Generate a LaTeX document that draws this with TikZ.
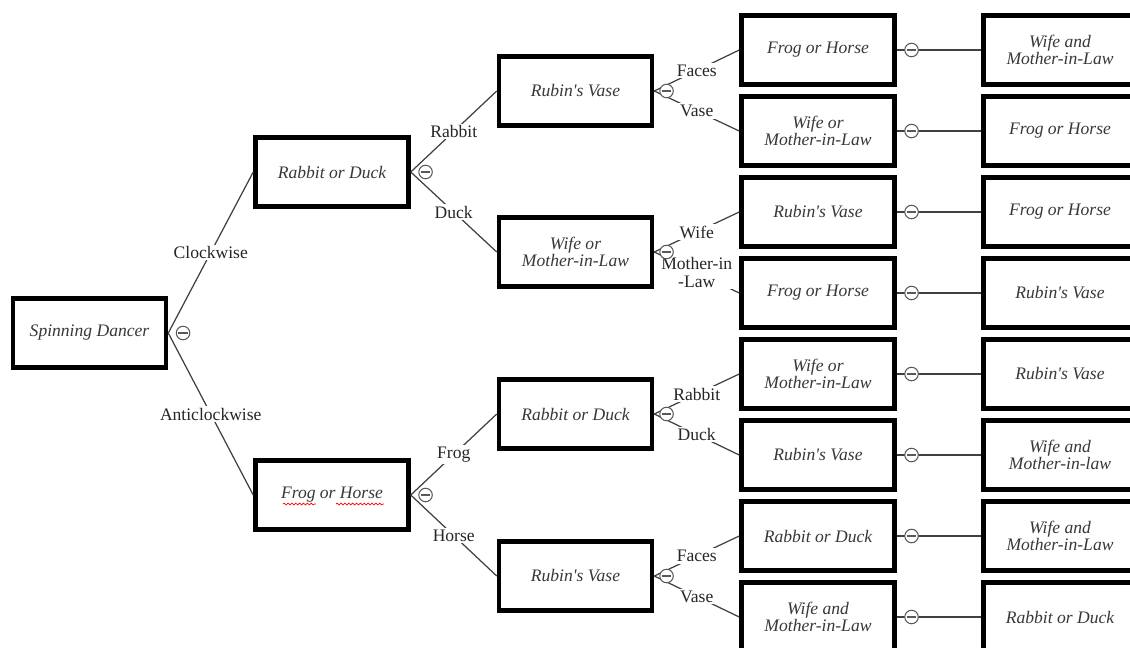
\documentclass[tikz,border=0pt]{standalone}
\usepackage{fontspec}
\setmainfont{Liberation Serif}
\usetikzlibrary{positioning,decorations.pathmorphing}

\begin{document}
\begin{tikzpicture}[x=0.02cm,y=-0.02cm,
  box/.style={draw=black,line width=2.6pt,minimum width=3.06cm,minimum height=1.38cm,
    inner sep=0pt,align=center,text=black!78,font=\fontsize{10}{9.7}\selectfont\itshape},
  edge/.style={draw=black!75,line width=.7pt},
  lab/.style={fill=white,inner sep=1pt,align=center,text=black!85,font=\fontsize{10}{9.7}\selectfont},
  knob/.style={circle,draw=black!65,fill=white,line width=.6pt,minimum size=0.27cm,inner sep=0pt,
    path picture={\draw[black!65,line width=.6pt]
      ([xshift=-2.8pt]path picture bounding box.center) -- ([xshift=2.8pt]path picture bounding box.center);}}]
\clip (0,0) rectangle (1130,647);
\fill[white] (0,0) rectangle (1130,647);
%
\node[box] (dancer) at (89.5,333) {Spinning Dancer};
\node[box] (rd1) at (332,172) {Rabbit or Duck};
\node[box] (fh1) at (332,495) {Frog or Horse};
\node[box] (rv2a) at (575.5,91) {Rubin\textquotesingle s Vase};
\node[box] (wm2a) at (575.5,252) {Wife or\\Mother-in-Law};
\node[box] (rd2b) at (575.5,414) {Rabbit or Duck};
\node[box] (rv2b) at (575.5,576) {Rubin\textquotesingle s Vase};
%
\foreach \i/\y/\ta/\tb in {1/50/{Frog or Horse}/{Wife and\\Mother-in-Law},
  2/131/{Wife or\\Mother-in-Law}/{Frog or Horse},
  3/212/{Rubin\textquotesingle s Vase}/{Frog or Horse},
  4/293/{Frog or Horse}/{Rubin\textquotesingle s Vase},
  5/374/{Wife or\\Mother-in-Law}/{Rubin\textquotesingle s Vase},
  6/455/{Rubin\textquotesingle s Vase}/{Wife and\\Mother-in-law},
  7/536/{Rabbit or Duck}/{Wife and\\Mother-in-Law},
  8/617/{Wife and\\Mother-in-Law}/{Rabbit or Duck}}{
  \node[box] (c\i) at (818,\y) {\ta};
  \node[box] (d\i) at (1060,\y) {\tb};
  \draw[edge] (c\i.east) -- (d\i.west);
  \node[knob,right=0.15cm of c\i.east] (k3\i) {};
}
%
\draw[edge] (dancer.east) -- node[lab] {Clockwise} (rd1.west);
\draw[edge] (dancer.east) -- node[lab] {Anticlockwise} (fh1.west);
\draw[edge] (rd1.east) -- node[lab] {Rabbit} (rv2a.west);
\draw[edge] (rd1.east) -- node[lab] {Duck} (wm2a.west);
\draw[edge] (fh1.east) -- node[lab] {Frog} (rd2b.west);
\draw[edge] (fh1.east) -- node[lab] {Horse} (rv2b.west);
%
\draw[edge] (rv2a.east) -- node[lab] {Faces} (c1.west);
\draw[edge] (rv2a.east) -- node[lab] {Vase} (c2.west);
\draw[edge] (wm2a.east) -- node[lab] {Wife} (c3.west);
\draw[edge] (wm2a.east) -- node[lab] {Mother-in\\-Law} (c4.west);
\draw[edge] (rd2b.east) -- node[lab] {Rabbit} (c5.west);
\draw[edge] (rd2b.east) -- node[lab] {Duck} (c6.west);
\draw[edge] (rv2b.east) -- node[lab] {Faces} (c7.west);
\draw[edge] (rv2b.east) -- node[lab] {Vase} (c8.west);
%
\node[knob,right=0.15cm of dancer.east] (k0) {};
\node[knob,right=0.15cm of rd1.east] (k1a) {};
\node[knob,right=0.15cm of fh1.east] (k1b) {};
\node[knob,right=0.1cm of rv2a.east] (k2a) {};
\node[knob,right=0.1cm of wm2a.east] (k2b) {};
\node[knob,right=0.1cm of rd2b.east] (k2c) {};
\node[knob,right=0.1cm of rv2b.east] (k2d) {};
%
% spell-check marks
\draw[red,line width=.4pt,decorate,decoration={snake,amplitude=.5pt,segment length=2.2pt}]
  (283,504) -- (316,504);
\draw[red,line width=.4pt,decorate,decoration={snake,amplitude=.5pt,segment length=2.2pt}]
  (336,504) -- (384,504);
\end{tikzpicture}
\end{document}
